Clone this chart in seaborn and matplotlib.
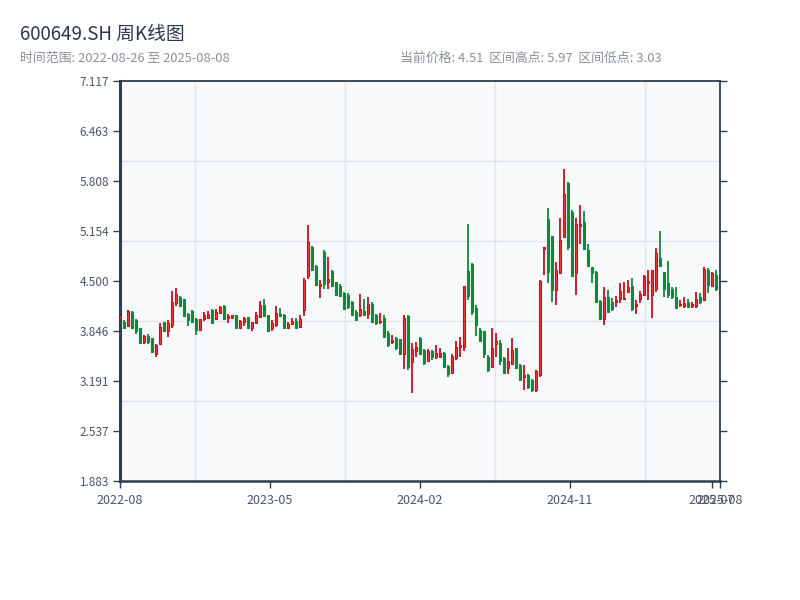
import numpy as np
import pandas as pd
import matplotlib
matplotlib.use("Agg")
import matplotlib.pyplot as plt
import seaborn as sns

# weekly candles, 2022-08-26 .. 2025-08-08
opens = [4.02, 3.97, 3.91, 4.10, 3.99, 3.88, 3.70, 3.78, 3.75, 3.54,
         3.68, 3.96, 3.85, 3.92, 4.21, 4.29, 4.26, 4.07, 4.11, 4.00,
         3.86, 4.00, 4.01, 4.12, 4.00, 4.08, 4.17, 4.01, 4.02, 4.05,
         3.88, 3.97, 4.03, 3.89, 3.95, 4.03, 4.19, 4.05, 3.89, 3.92,
         4.07, 4.06, 3.88, 3.94, 3.98, 3.90, 4.12, 4.56, 4.94, 4.69,
         4.43, 4.88, 4.49, 4.63, 4.49, 4.44, 4.34, 4.32, 4.23, 4.10,
         4.05, 4.11, 4.07, 4.20, 4.05, 3.96, 4.02, 3.82, 3.70, 3.75,
         3.74, 3.54, 4.04, 3.44, 3.59, 3.76, 3.60, 3.45, 3.59, 3.51,
         3.50, 3.56, 3.39, 3.30, 3.49, 3.64, 3.64, 4.63, 4.72, 4.15,
         3.86, 3.84, 3.51, 3.37, 3.67, 3.69, 3.49, 3.36, 3.42, 3.62,
         3.40, 3.24, 3.27, 3.20, 3.08, 3.27, 4.92, 5.31, 5.09, 4.38,
         4.61, 5.07, 5.78, 5.40, 4.60, 5.22, 5.27, 4.90, 4.68, 4.62,
         4.24, 4.00, 4.29, 4.22, 4.22, 4.27, 4.26, 4.36, 4.44, 4.17,
         4.26, 4.32, 4.47, 4.32, 4.40, 4.80, 4.62, 4.47, 4.40, 4.29,
         4.18, 4.17, 4.22, 4.17, 4.17, 4.29, 4.25, 4.64, 4.43, 4.58,
         4.38]
highs = [4.05, 3.99, 4.12, 4.11, 4.00, 3.89, 3.79, 3.80, 3.76, 3.68,
         3.95, 3.97, 3.99, 4.37, 4.41, 4.30, 4.27, 4.08, 4.12, 4.01,
         4.00, 4.10, 4.11, 4.13, 4.13, 4.17, 4.19, 4.07, 4.05, 4.05,
         3.99, 4.03, 4.03, 3.97, 4.10, 4.24, 4.27, 4.06, 3.99, 4.17,
         4.15, 4.07, 3.97, 4.02, 4.02, 4.05, 4.54, 5.23, 4.96, 4.71,
         4.51, 4.91, 4.82, 4.64, 4.49, 4.46, 4.36, 4.34, 4.24, 4.12,
         4.33, 4.26, 4.29, 4.22, 4.07, 4.08, 4.05, 3.84, 3.79, 3.77,
         3.74, 4.06, 4.06, 3.69, 3.70, 3.77, 3.61, 3.61, 3.60, 3.66,
         3.62, 3.57, 3.40, 3.54, 3.72, 3.77, 4.44, 5.25, 4.74, 4.19,
         3.89, 3.85, 3.53, 3.88, 3.82, 3.73, 3.50, 3.62, 3.76, 3.62,
         3.41, 3.40, 3.28, 3.22, 3.33, 4.51, 4.95, 5.45, 5.09, 4.75,
         5.33, 5.97, 5.79, 5.43, 5.32, 5.50, 5.42, 4.98, 4.68, 4.63,
         4.25, 4.42, 4.38, 4.28, 4.30, 4.47, 4.49, 4.51, 4.54, 4.25,
         4.37, 4.58, 4.65, 4.64, 4.93, 5.15, 4.62, 4.76, 4.42, 4.42,
         4.25, 4.29, 4.26, 4.22, 4.36, 4.34, 4.68, 4.67, 4.62, 4.64,
         4.58]
lows = [4.01, 3.88, 3.91, 3.88, 3.80, 3.68, 3.67, 3.68, 3.56, 3.51,
        3.67, 3.83, 3.77, 3.88, 4.17, 4.16, 4.03, 3.91, 3.95, 3.79,
        3.85, 3.98, 4.00, 3.94, 3.99, 4.07, 3.99, 3.95, 4.00, 3.88,
        3.88, 3.91, 3.88, 3.84, 3.94, 4.01, 4.03, 3.83, 3.85, 3.90,
        4.03, 3.89, 3.87, 3.93, 3.88, 3.89, 4.04, 4.52, 4.63, 4.43,
        4.28, 4.39, 4.39, 4.42, 4.30, 4.29, 4.12, 4.14, 4.04, 3.98,
        4.03, 4.04, 4.00, 3.95, 3.93, 3.94, 3.76, 3.64, 3.68, 3.60,
        3.53, 3.35, 3.34, 3.03, 3.51, 3.53, 3.40, 3.45, 3.47, 3.48,
        3.50, 3.36, 3.25, 3.30, 3.47, 3.50, 3.58, 4.25, 4.05, 3.78,
        3.70, 3.49, 3.31, 3.36, 3.50, 3.40, 3.29, 3.28, 3.40, 3.35,
        3.19, 3.08, 3.09, 3.05, 3.05, 3.25, 4.58, 4.47, 4.23, 4.18,
        4.61, 5.07, 4.90, 4.56, 4.32, 4.98, 4.91, 4.68, 4.48, 4.21,
        3.99, 3.93, 4.09, 4.11, 4.16, 4.21, 4.26, 4.35, 4.11, 4.07,
        4.21, 4.30, 4.25, 4.02, 4.36, 4.68, 4.29, 4.28, 4.27, 4.14,
        4.16, 4.15, 4.15, 4.15, 4.15, 4.20, 4.24, 4.34, 4.42, 4.37,
        4.32]
closes = [4.04, 3.89, 4.11, 3.89, 3.84, 3.69, 3.78, 3.70, 3.57, 3.66,
          3.90, 3.84, 3.95, 4.23, 4.33, 4.17, 4.04, 3.99, 3.96, 3.86,
          4.00, 4.06, 4.07, 3.95, 4.10, 4.16, 4.00, 4.04, 4.05, 3.89,
          3.98, 4.02, 3.88, 3.96, 4.05, 4.18, 4.04, 3.85, 3.95, 4.08,
          4.04, 3.89, 3.94, 3.98, 3.89, 4.00, 4.51, 5.01, 4.64, 4.45,
          4.46, 4.46, 4.53, 4.43, 4.32, 4.31, 4.14, 4.16, 4.05, 3.99,
          4.13, 4.05, 4.20, 3.96, 3.95, 3.98, 3.77, 3.66, 3.73, 3.62,
          3.55, 4.01, 3.37, 3.61, 3.63, 3.55, 3.43, 3.58, 3.50, 3.56,
          3.56, 3.38, 3.28, 3.52, 3.63, 3.66, 4.43, 4.30, 4.10, 3.92,
          3.71, 3.55, 3.33, 3.62, 3.72, 3.45, 3.30, 3.45, 3.60, 3.36,
          3.20, 3.27, 3.11, 3.07, 3.32, 4.50, 4.94, 4.62, 4.38, 4.64,
          5.03, 5.64, 4.94, 4.57, 5.24, 5.25, 4.92, 4.69, 4.60, 4.22,
          4.00, 4.29, 4.10, 4.13, 4.25, 4.37, 4.28, 4.42, 4.13, 4.20,
          4.33, 4.57, 4.50, 4.64, 4.87, 4.70, 4.40, 4.32, 4.29, 4.15,
          4.20, 4.21, 4.16, 4.20, 4.26, 4.22, 4.66, 4.45, 4.60, 4.40,
          4.51]

tick_pos = [0, 37.5, 75, 112.5, 148, 150]
tick_labels = ["2022-08", "2023-05", "2024-02", "2024-11", "2025-07", "2025-08"]
y_lo, y_hi = 1.8828, 7.1168

df = pd.DataFrame({"open": opens, "high": highs, "low": lows, "close": closes})
df["idx"] = np.arange(len(df))
df["up"] = df["close"] >= df["open"]

sns.set_style("white")
plt.rcParams['font.family'] = ['Noto Sans CJK SC', 'DejaVu Sans']

RED_EDGE = "#cf0a1c"
RED_FILL = "#ee3b3b"
GREEN = "#0b8a3c"
DARK = "#2c3e50"
TXT = "#4a5563"

fig = plt.figure(figsize=(8, 6), dpi=100)
ax = fig.add_axes([0.15, 0.1983, 0.75, 0.6667])
ax.set_facecolor("#f7f9fb")

# grid on its own divisions
ax.set_xticks(np.linspace(0, 150, 9), minor=True)
ax.set_yticks(np.linspace(y_lo, y_hi, 6), minor=True)
ax.grid(which="minor", color="#e2e6eb", linewidth=1.0)
ax.grid(which="major", visible=False)
ax.set_axisbelow(True)

# wicks
for up, col in [(True, RED_EDGE), (False, GREEN)]:
    d = df[df["up"] == up]
    ax.vlines(d["idx"], d["low"], d["high"], color=col, linewidth=1.3, zorder=2)

# bodies
d = df[df["up"]]
h = (d["close"] - d["open"]).clip(lower=0.02)
ax.bar(d["idx"], h, bottom=d["open"], width=0.72, color=RED_FILL,
       edgecolor=RED_EDGE, linewidth=0.8, zorder=3)
d = df[~df["up"]]
h = (d["open"] - d["close"]).clip(lower=0.02)
ax.bar(d["idx"], h, bottom=d["close"], width=0.72, color=GREEN,
       edgecolor=GREEN, linewidth=0.8, zorder=3)

ax.set_xlim(0, 150)
ax.set_ylim(y_lo, y_hi)
yt = np.linspace(y_lo, y_hi, 9)
ax.set_yticks(yt)
ax.set_yticklabels(["%.3f" % v for v in yt])
ax.set_xticks(tick_pos)
ax.set_xticklabels(tick_labels)

ax.tick_params(axis="y", which="major", left=True, right=True, direction="out",
               length=5, width=1, color=DARK, labelsize=8.5, labelcolor=TXT, pad=3)
ax.tick_params(axis="x", which="major", bottom=True, direction="out",
               length=5, width=1, color=DARK, labelsize=9, labelcolor=TXT, pad=4)
ax.tick_params(which="minor", length=0)

for side, lw in [("left", 2.2), ("bottom", 1.8), ("top", 1.3), ("right", 1.3)]:
    ax.spines[side].set_visible(True)
    ax.spines[side].set_color(DARK)
    ax.spines[side].set_linewidth(lw)

fig.text(0.025, 0.942, "600649.SH 周K线图", fontsize=13.5, color="#2d3748",
         ha="left", va="center")
fig.text(0.025, 0.902, "时间范围: 2022-08-26 至 2025-08-08", fontsize=9.3,
         color="#8a9099", ha="left", va="center")
fig.text(0.5, 0.902, "当前价格: %.2f  区间高点: %.2f  区间低点: %.2f"
         % (closes[-1], max(highs), min(lows)),
         fontsize=9.3, color="#8a9099", ha="left", va="center")

fig.savefig("out.png", dpi=100)
